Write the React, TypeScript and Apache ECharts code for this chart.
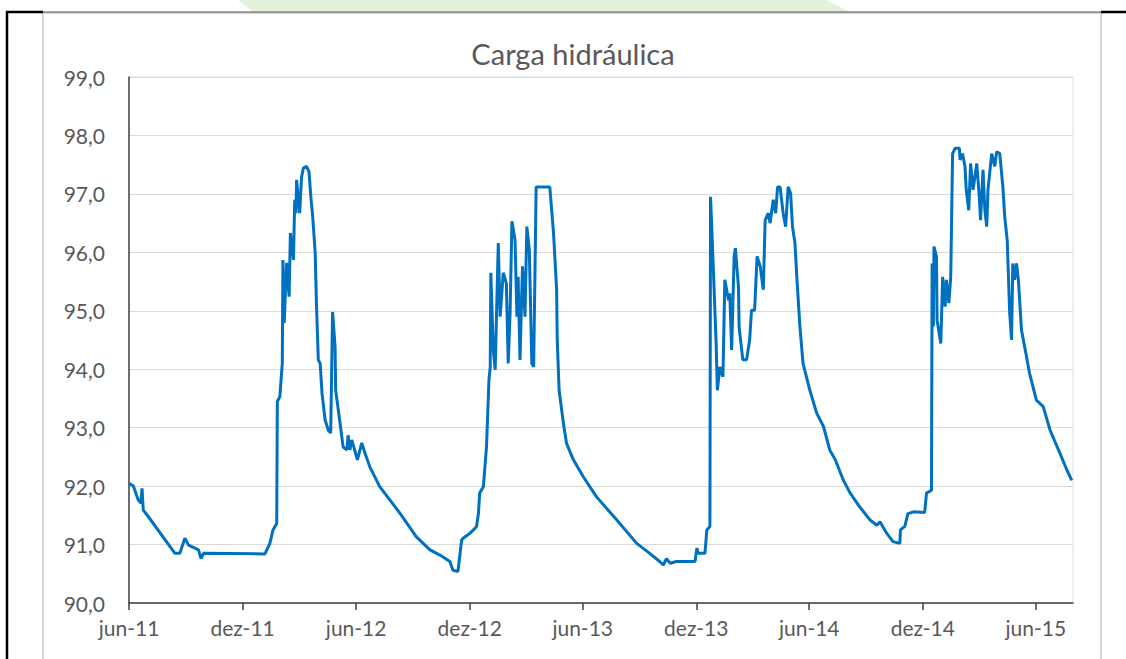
import React, { useEffect, useRef } from "react";
import * as echarts from "echarts";

const titulo = "Carga hidráulica";

const rotulosX = ["jun-11", "dez-11", "jun-12", "dez-12", "jun-13", "dez-13", "jun-14", "dez-14", "jun-15"];
const datasRotulos = ["2011-06-01", "2011-12-01", "2012-06-01", "2012-12-01", "2013-06-01", "2013-12-01", "2014-06-01", "2014-12-01", "2015-06-01"];
const inicioEixo = "2011-06-01";
const fimEixo = "2015-07-31";

const fechas = [
  "2011-06-01", "2011-06-08", "2011-06-16", "2011-06-20", "2011-06-22", "2011-06-24", "2011-07-02", "2011-08-14", "2011-08-22", "2011-08-30",
  "2011-09-05", "2011-09-21", "2011-09-25", "2011-09-29", "2012-01-06", "2012-01-14", "2012-01-19", "2012-01-25", "2012-01-26", "2012-01-30",
  "2012-02-03", "2012-02-04", "2012-02-06", "2012-02-10", "2012-02-14", "2012-02-16", "2012-02-21", "2012-02-23", "2012-02-25", "2012-02-26",
  "2012-03-02", "2012-03-05", "2012-03-08", "2012-03-13", "2012-03-17", "2012-03-20", "2012-03-23", "2012-03-27", "2012-03-29", "2012-04-01",
  "2012-04-04", "2012-04-07", "2012-04-12", "2012-04-17", "2012-04-21", "2012-04-24", "2012-04-28", "2012-04-29", "2012-05-06", "2012-05-11",
  "2012-05-17", "2012-05-19", "2012-05-22", "2012-05-25", "2012-06-03", "2012-06-10", "2012-06-15", "2012-06-23", "2012-07-09", "2012-08-11",
  "2012-09-06", "2012-09-28", "2012-10-14", "2012-10-30", "2012-11-04", "2012-11-12", "2012-11-18", "2012-11-23", "2012-12-01", "2012-12-07",
  "2012-12-12", "2012-12-15", "2012-12-17", "2012-12-23", "2012-12-28", "2013-01-01", "2013-01-03", "2013-01-04", "2013-01-08", "2013-01-11",
  "2013-01-16", "2013-01-19", "2013-01-24", "2013-01-29", "2013-02-01", "2013-02-04", "2013-02-07", "2013-02-12", "2013-02-15", "2013-02-17",
  "2013-02-20", "2013-02-24", "2013-02-28", "2013-03-03", "2013-03-07", "2013-03-11", "2013-03-14", "2013-03-18", "2013-04-09", "2013-04-15",
  "2013-04-20", "2013-04-21", "2013-04-24", "2013-05-01", "2013-05-06", "2013-05-17", "2013-06-02", "2013-06-23", "2013-07-26", "2013-08-27",
  "2013-09-17", "2013-10-03", "2013-10-09", "2013-10-14", "2013-10-20", "2013-10-30", "2013-11-29", "2013-12-02", "2013-12-04", "2013-12-15",
  "2013-12-18", "2013-12-23", "2013-12-24", "2013-12-28", "2014-01-02", "2014-01-04", "2014-01-08", "2014-01-13", "2014-01-16", "2014-01-22",
  "2014-01-24", "2014-01-27", "2014-01-31", "2014-02-02", "2014-02-07", "2014-02-08", "2014-02-14", "2014-02-20", "2014-02-25", "2014-02-28",
  "2014-03-05", "2014-03-09", "2014-03-14", "2014-03-19", "2014-03-22", "2014-03-27", "2014-03-30", "2014-04-04", "2014-04-08", "2014-04-11",
  "2014-04-15", "2014-04-20", "2014-04-24", "2014-04-28", "2014-05-02", "2014-05-05", "2014-05-09", "2014-05-12", "2014-05-17", "2014-05-22",
  "2014-06-02", "2014-06-13", "2014-06-24", "2014-07-04", "2014-07-13", "2014-07-26", "2014-08-06", "2014-08-21", "2014-09-07", "2014-09-18",
  "2014-09-23", "2014-10-04", "2014-10-14", "2014-10-25", "2014-10-26", "2014-11-02", "2014-11-07", "2014-11-16", "2014-12-04", "2014-12-07",
  "2014-12-15", "2014-12-16", "2014-12-18", "2014-12-19", "2014-12-23", "2014-12-24", "2014-12-30", "2015-01-02", "2015-01-06", "2015-01-08",
  "2015-01-12", "2015-01-15", "2015-01-18", "2015-01-22", "2015-01-29", "2015-01-30", "2015-02-03", "2015-02-07", "2015-02-09", "2015-02-13",
  "2015-02-16", "2015-02-20", "2015-02-26", "2015-03-02", "2015-03-04", "2015-03-08", "2015-03-11", "2015-03-14", "2015-03-16", "2015-03-22",
  "2015-03-27", "2015-03-30", "2015-04-04", "2015-04-09", "2015-04-12", "2015-04-16", "2015-04-20", "2015-04-23", "2015-04-25", "2015-04-28",
  "2015-05-01", "2015-05-04", "2015-05-09", "2015-05-14", "2015-05-22", "2015-06-02", "2015-06-13", "2015-06-24", "2015-07-10", "2015-07-21",
  "2015-07-29",
];

const carga = [
  92.05, 92.0, 91.76, 91.71, 91.96, 91.59, 91.48, 90.85, 90.85, 91.11,
  90.99, 90.91, 90.76, 90.85, 90.84, 91.02, 91.25, 91.36, 93.45, 93.53,
  94.1, 95.87, 94.79, 95.82, 95.24, 96.33, 95.87, 96.9, 96.67, 97.24,
  96.67, 97.29, 97.44, 97.47, 97.38, 96.95, 96.61, 95.99, 95.13, 94.16,
  94.1, 93.59, 93.13, 92.96, 92.91, 94.98, 94.39, 93.64, 93.08, 92.67,
  92.62, 92.87, 92.62, 92.79, 92.45, 92.74, 92.57, 92.33, 91.99, 91.53,
  91.13, 90.91, 90.82, 90.71, 90.56, 90.54, 91.08, 91.13, 91.19, 91.25,
  91.31, 91.53, 91.88, 91.99, 92.67, 93.82, 94.04, 95.65, 94.33, 93.99,
  96.16, 94.9, 95.65, 95.47, 94.1, 94.96, 96.53, 96.21, 94.9, 95.58,
  94.16, 95.76, 94.9, 96.44, 96.04, 94.1, 94.04, 97.12, 97.12, 96.33,
  95.36, 94.5, 93.64, 93.07, 92.73, 92.45, 92.16, 91.82, 91.42, 91.02,
  90.85, 90.71, 90.65, 90.76, 90.68, 90.71, 90.71, 90.94, 90.85, 90.85,
  91.25, 91.31, 96.95, 95.87, 94.44, 93.64, 94.04, 93.87, 95.53, 95.18,
  95.3, 94.33, 95.93, 96.07, 95.41, 94.73, 94.16, 94.16, 94.5, 95.01,
  95.01, 95.93, 95.76, 95.36, 96.55, 96.67, 96.5, 96.9, 96.67, 97.12,
  97.12, 96.67, 96.44, 97.12, 97.01, 96.44, 96.16, 95.58, 94.73, 94.1,
  93.64, 93.25, 93.02, 92.62, 92.45, 92.1, 91.88, 91.65, 91.42, 91.33,
  91.39, 91.19, 91.05, 91.02, 91.25, 91.31, 91.53, 91.56, 91.55, 91.88,
  91.93, 95.81, 94.73, 96.1, 95.93, 94.84, 94.44, 95.58, 95.07, 95.53,
  95.13, 95.58, 97.69, 97.78, 97.78, 97.58, 97.69, 97.47, 97.07, 96.72,
  97.52, 97.07, 97.52, 96.95, 96.55, 97.41, 96.72, 96.44, 97.07, 97.69,
  97.47, 97.72, 97.69, 97.12, 96.61, 96.21, 94.96, 94.5, 95.81, 95.53,
  95.81, 95.53, 94.67, 94.39, 93.93, 93.47, 93.36, 92.96, 92.56, 92.28,
  92.1,
];

const eixoY = { min: 90, max: 99, intervalo: 1 };

const diaDe = (s: string) => {
  const [y, m, d] = s.split("-").map(Number);
  const [y0, m0, d0] = inicioEixo.split("-").map(Number);
  return Math.round((Date.UTC(y, m - 1, d) - Date.UTC(y0, m0 - 1, d0)) / 86400000);
};

export default function App() {
  const ref = useRef<HTMLDivElement>(null);
  useEffect(() => {
    if (!ref.current) return;
    const chart = echarts.init(ref.current, null, { renderer: "svg" });
    const ticks = datasRotulos.map(diaDe);
    const font = "Lato, 'Noto Sans', sans-serif";
    chart.setOption({
      animation: false,
      backgroundColor: "#ffffff",
      graphic: [
        { type: "polygon", shape: { points: [[238, 0], [826, 0], [850, 12], [253, 12]] }, style: { fill: "#e4f1dd" }, silent: true },
        { type: "rect", shape: { x: 43, y: 13, width: 1058, height: 660 }, style: { fill: "none", stroke: "#d6d6d6", lineWidth: 2 }, silent: true },
        { type: "line", shape: { x1: 6, y1: 12, x2: 43, y2: 12 }, style: { stroke: "#000", lineWidth: 2.5 }, silent: true },
        { type: "line", shape: { x1: 43, y1: 12, x2: 1101, y2: 12 }, style: { stroke: "#555", lineWidth: 1 }, silent: true },
        { type: "line", shape: { x1: 1101, y1: 12, x2: 1126, y2: 12 }, style: { stroke: "#000", lineWidth: 2.5 }, silent: true },
        { type: "line", shape: { x1: 7, y1: 11, x2: 7, y2: 659 }, style: { stroke: "#000", lineWidth: 2.5 }, silent: true },
        {
          type: "text",
          x: 573,
          y: 53,
          style: { text: titulo, fill: "#595959", font: `29px ${font}`, textAlign: "center", textVerticalAlign: "middle" },
        },
      ],
      grid: { left: 129, right: 53, top: 77, bottom: 56, show: true, borderColor: "#dae3f3", borderWidth: 1, backgroundColor: "transparent" },
      xAxis: {
        type: "value",
        min: 0,
        max: diaDe(fimEixo),
        axisLine: { show: true, lineStyle: { color: "#404040", width: 1.5 } },
        axisTick: { show: true, customValues: ticks, length: 7, lineStyle: { color: "#404040", width: 1.5 } },
        axisLabel: {
          customValues: ticks,
          color: "#595959",
          fontSize: 21,
          fontFamily: font,
          margin: 14,
          formatter: (v: number) => {
            let best = 0;
            ticks.forEach((t, i) => { if (Math.abs(t - v) < Math.abs(ticks[best] - v)) best = i; });
            return rotulosX[best];
          },
        },
        splitLine: { show: false },
      },
      yAxis: {
        type: "value",
        min: eixoY.min,
        max: eixoY.max,
        interval: eixoY.intervalo,
        axisLine: { show: true, lineStyle: { color: "#404040", width: 1.5 } },
        axisTick: { show: false },
        axisLabel: {
          color: "#595959",
          fontSize: 21,
          fontFamily: font,
          margin: 24,
          formatter: (v: number) => v.toFixed(1).replace(".", ","),
        },
        splitLine: { lineStyle: { color: "#d9d9d9", width: 1 } },
      },
      series: [
        {
          type: "line",
          name: titulo,
          showSymbol: false,
          symbol: "none",
          data: fechas.map((f, i) => [diaDe(f), carga[i]]),
          lineStyle: { color: "#0070c0", width: 3 },
          itemStyle: { color: "#0070c0" },
        },
      ],
    });
    return () => chart.dispose();
  }, []);
  return <div ref={ref} style={{ position: "fixed", left: 0, top: 0, width: 1126, height: 659 }} />;
}
